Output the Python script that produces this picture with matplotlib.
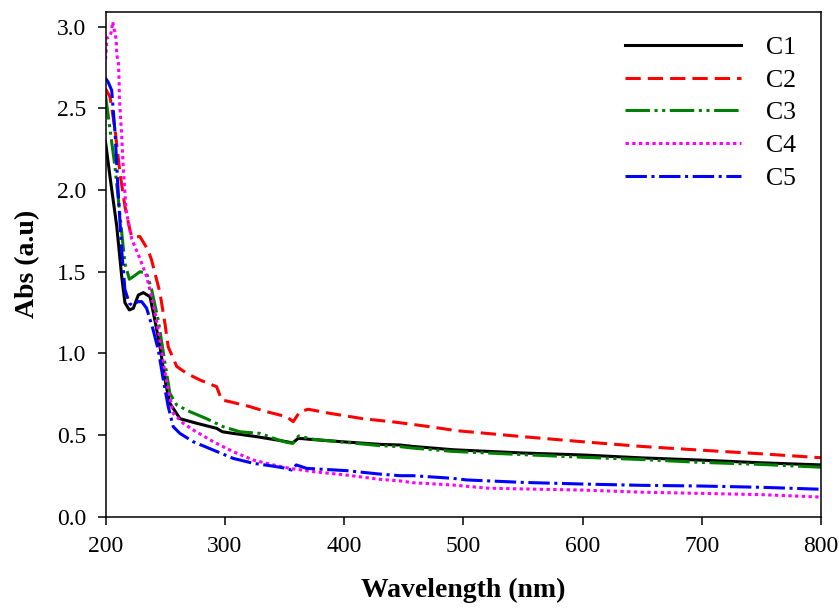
import matplotlib
matplotlib.use("Agg")
import matplotlib.pyplot as plt

plt.rcParams['font.family'] = ['Liberation Serif', 'DejaVu Serif']

# ---- data ----
wl_c1 = [200, 203.8, 209.4, 213.6, 216.3, 220, 223.3, 227.5, 231.7, 237.3, 241.5, 245.7,
         249.9, 254, 262.5, 276.5, 293.2, 298, 307.1, 326.7, 345, 352, 357, 361.6, 374.2,
         402.2, 430, 447, 458, 491.5, 550, 600, 650, 698, 750, 800]
abs_c1 = [2.296, 2.08, 1.78, 1.47, 1.31, 1.266, 1.276, 1.357, 1.372, 1.347, 1.20, 1.04,
          0.837, 0.694, 0.60, 0.572, 0.541, 0.52, 0.51, 0.49, 0.468, 0.459, 0.452, 0.48, 0.472,
          0.457, 0.443, 0.439, 0.43, 0.41, 0.39, 0.378, 0.36, 0.347, 0.33, 0.317]

wl_c2 = [200, 203.8, 208, 212.2, 216.3, 220.5, 222, 228.9, 235.9, 238.7, 245.7, 249.9,
         252.6, 259.7, 268, 279.2, 293.2, 297.4, 304.4, 321, 335, 346, 352, 357.4, 363,
         370, 388, 416, 444, 472, 494, 550, 600, 650, 698, 750, 800]
abs_c2 = [2.62, 2.57, 2.37, 2.10, 1.90, 1.755, 1.715, 1.715, 1.63, 1.57, 1.37, 1.18,
          1.04, 0.92, 0.878, 0.837, 0.796, 0.715, 0.704, 0.674, 0.643, 0.623, 0.612, 0.582, 0.643,
          0.658, 0.633, 0.60, 0.578, 0.551, 0.527, 0.49, 0.459, 0.43, 0.408, 0.385, 0.361]

wl_c3 = [200, 203.8, 208, 212.2, 216.3, 220, 223.3, 228.9, 234.5, 238.7, 244.3, 249.9,
         254, 259.7, 270.8, 284.8, 298.7, 312.7, 329.5, 345, 352, 357, 362, 374, 402,
         430, 447, 458, 491, 550, 600, 650, 698, 750, 800]
abs_c3 = [2.58, 2.37, 2.14, 1.84, 1.55, 1.454, 1.47, 1.50, 1.49, 1.39, 1.20, 0.94,
          0.755, 0.684, 0.643, 0.60, 0.551, 0.52, 0.51, 0.47, 0.455, 0.449, 0.494, 0.474, 0.455,
          0.435, 0.429, 0.42, 0.40, 0.38, 0.364, 0.35, 0.333, 0.32, 0.303]

wl_c4 = [200, 200.5, 201, 203.8, 205.2, 206, 208, 209, 209.4, 210.8, 211.4, 211.6,
         213.6, 214.9, 217.2, 222, 228.9, 234.5, 240, 244.3, 248.5, 252.6, 256.8, 265.2,
         273.6, 290.4, 307.1, 323.9, 340.7, 354.6, 374, 402, 430, 447, 458, 491, 520,
         550, 600, 650, 698, 750, 800]
abs_c4 = [2.80, 2.84, 2.93, 2.94, 2.98, 3.03, 2.96, 2.92, 2.83, 2.78, 2.67, 2.57,
          2.33, 2.14, 1.88, 1.70, 1.58, 1.47, 1.307, 1.143, 0.94, 0.776, 0.633, 0.572,
          0.531, 0.459, 0.398, 0.347, 0.317, 0.296, 0.276, 0.255, 0.229, 0.219, 0.208, 0.194, 0.175,
          0.17, 0.163, 0.15, 0.143, 0.135, 0.12]

wl_c5 = [200, 202.3, 205.2, 208, 210.7, 213.6, 216.3, 220, 222, 227.5, 230.3, 234.5,
         240, 244.3, 248.5, 252.6, 256.8, 262.4, 273.6, 290.4, 307.1, 323.9, 340, 350,
         356, 360, 368.6, 402, 430, 447, 458, 491, 503, 550, 600, 650, 698, 750, 800]
abs_c5 = [2.685, 2.66, 2.61, 2.35, 1.98, 1.63, 1.39, 1.307, 1.296, 1.317, 1.317, 1.276,
          1.143, 1.02, 0.837, 0.674, 0.551, 0.51, 0.459, 0.408, 0.357, 0.327, 0.31, 0.298,
          0.286, 0.317, 0.296, 0.282, 0.261, 0.251, 0.251, 0.235, 0.225, 0.21, 0.20, 0.192, 0.188, 0.18, 0.168]

labels = ["C1", "C2", "C3", "C4", "C5"]
x_ticks = [200, 300, 400, 500, 600, 700, 800]
y_ticks = [0.0, 0.5, 1.0, 1.5, 2.0, 2.5, 3.0]

# ---- figure ----
fig = plt.figure(figsize=(8.39, 6.08), dpi=100)
ax = fig.add_axes([105.5 / 839, 1 - 516.7 / 608, (821 - 105.5) / 839, (516.7 - 11.7) / 608])

lw = 2.2
ax.plot(wl_c1, abs_c1, color='black', lw=lw, linestyle='-', label=labels[0])
ax.plot(wl_c2, abs_c2, color='red', lw=lw, linestyle=(0, (5, 2.3)), label=labels[1])
ax.plot(wl_c3, abs_c3, color='green', lw=lw, linestyle=(0, (8, 1.5, 1, 1.5, 1, 1.5)), label=labels[2])
ax.plot(wl_c4, abs_c4, color='magenta', lw=lw, linestyle=(0, (1.1, 1.1)), label=labels[3])
ax.plot(wl_c5, abs_c5, color='blue', lw=lw, linestyle=(0, (7, 1.5, 1, 1.5)), label=labels[4])

ax.set_xlim(200, 800)
ax.set_ylim(0, 3.092)
ax.set_xticks(x_ticks)
ax.set_xticklabels([str(v) for v in x_ticks])
ax.set_yticks(y_ticks)
ax.set_yticklabels([f"{v:.1f}" for v in y_ticks])
ax.tick_params(direction='out', length=6, width=1.1, labelsize=17, pad=8,
               top=False, right=False)
for s in ax.spines.values():
    s.set_linewidth(1.1)

ax.set_xlabel("Wavelength (nm)", fontsize=20, fontweight='bold', labelpad=15)
ax.set_ylabel("Abs (a.u)", fontsize=20, fontweight='bold', labelpad=12)

leg = ax.legend(loc='upper left', bbox_to_anchor=(625 / 839, 1 - 36 / 608),
                bbox_transform=fig.transFigure, frameon=False, fontsize=18.5,
                handlelength=4.5, handletextpad=1.0, labelspacing=0.38,
                borderpad=0, borderaxespad=0)

fig.savefig("out.png", dpi=100)
